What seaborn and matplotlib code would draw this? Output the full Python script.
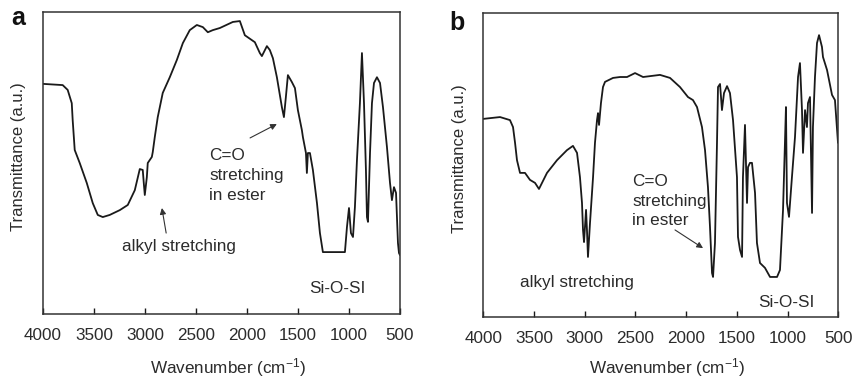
import matplotlib
matplotlib.use("Agg")
import matplotlib.pyplot as plt
import seaborn as sns
import pandas as pd

# ---------------- data ----------------
wn_a = [4000, 3807, 3758, 3718, 3709, 3689, 3640, 3571, 3512, 3463, 3414, 3346,
        3247, 3169, 3100, 3051, 3022, 3012, 3002, 2982, 2973, 2933, 2924, 2904,
        2875, 2826, 2757, 2688, 2629, 2561, 2492, 2433, 2384, 2335, 2266, 2139,
        2070, 2021, 1923, 1874, 1854, 1805, 1776, 1746, 1707, 1658, 1638, 1619,
        1599, 1560, 1530, 1501, 1462, 1452, 1422, 1413, 1403, 1383, 1354, 1314,
        1285, 1256, 1040, 1020, 1000, 981, 961, 942, 922, 893, 873, 853, 834,
        824, 814, 794, 775, 755, 726, 696, 667, 628, 598, 579, 559, 539, 520,
        510, 500]
tr_a = [76.2, 75.8, 74.2, 69.8, 64.2, 54.3, 50.0, 43.4, 36.7, 32.8, 32.1, 32.8,
        34.4, 36.1, 41.0, 48.0, 47.7, 43.4, 39.4, 45.3, 50.0, 52.0, 53.6, 58.6,
        65.2, 73.2, 78.4, 84.1, 89.7, 94.0, 95.7, 95.0, 93.3, 94.0, 94.7, 96.7,
        97.0, 92.3, 90.0, 86.4, 85.4, 88.7, 87.4, 84.7, 78.4, 68.5, 65.2, 71.8,
        79.1, 76.8, 74.8, 67.5, 60.9, 58.6, 53.3, 46.7, 53.3, 53.3, 47.7, 36.7,
        26.8, 20.5, 20.5, 28.8, 35.1, 26.8, 25.5, 35.4, 51.0, 69.8, 86.4, 69.8,
        47.7, 32.1, 30.5, 53.3, 69.8, 76.5, 78.4, 76.5, 68.5, 55.3, 43.4, 37.7,
        42.0, 40.1, 23.5, 20.2, 19.5]

wn_b = [4000, 3835, 3737, 3707, 3687, 3668, 3638, 3589, 3540, 3490, 3451, 3372,
        3273, 3175, 3116, 3076, 3047, 3027, 3017, 3007, 2987, 2978, 2968, 2948,
        2918, 2899, 2879, 2869, 2859, 2840, 2820, 2800, 2721, 2652, 2583, 2504,
        2425, 2258, 2159, 2061, 1982, 1933, 1893, 1844, 1814, 1785, 1765, 1745,
        1735, 1716, 1696, 1686, 1666, 1647, 1627, 1597, 1568, 1538, 1499, 1489,
        1469, 1449, 1440, 1420, 1400, 1390, 1371, 1351, 1321, 1302, 1272, 1223,
        1173, 1104, 1075, 1045, 1026, 1016, 1006, 986, 957, 927, 897, 878, 858,
        848, 828, 809, 799, 779, 759, 750, 730, 710, 690, 661, 651, 611, 562,
        533, 503]
tr_b = [65.2, 65.8, 64.8, 62.5, 57.3, 51.6, 47.4, 47.4, 45.1, 44.1, 42.1, 47.4,
        51.6, 54.9, 56.3, 54.0, 46.0, 37.5, 28.6, 24.6, 35.2, 28.6, 19.7, 30.9,
        46.0, 57.3, 64.8, 67.1, 63.2, 70.4, 75.7, 77.4, 78.7, 79.0, 79.0, 80.3,
        79.0, 79.7, 78.7, 75.7, 72.4, 71.4, 69.1, 62.5, 54.9, 42.7, 29.6, 14.4,
        13.1, 24.3, 57.3, 75.7, 76.7, 68.1, 73.7, 76.0, 73.7, 64.8, 46.0, 26.3,
        22.0, 19.7, 46.0, 63.2, 37.5, 49.3, 50.7, 50.7, 40.8, 24.3, 17.7, 16.1,
        13.1, 13.1, 15.4, 35.2, 57.3, 69.1, 37.5, 32.9, 46.0, 59.2, 79.0, 83.6,
        68.1, 54.0, 68.1, 62.5, 70.4, 72.4, 34.2, 62.5, 79.0, 90.2, 92.8, 88.9,
        85.6, 81.3, 73.1, 71.4, 57.3]

tick_values = [4000, 3500, 3000, 2500, 2000, 1500, 1000, 500]
tick_labels = ["4000", "3500", "3000", "2500", "2000", "1500", "1000", "500"]
panel_letters = ["a", "b"]
xlabel_text = "Wavenumber (cm$^{\\mathregular{-1}}$)"
ylabel_text = "Transmittance (a.u.)"
carbonyl_text = "C=O\nstretching\nin ester"
alkyl_text = "alkyl stretching"
siloxane_text = "Si-O-SI"

# ---------------- style ----------------
sns.set_style("white")
plt.rcParams["font.family"] = ["Liberation Sans", "DejaVu Sans"]
plt.rcParams["mathtext.fontset"] = "custom"
plt.rcParams["mathtext.rm"] = "Liberation Sans"
plt.rcParams["mathtext.it"] = "Liberation Sans:italic"
plt.rcParams["mathtext.bf"] = "Liberation Sans:bold"

TXT = "#2b2b2b"
LINE = "#1a1a1a"
FS = 12.3

fig = plt.figure(figsize=(8.56, 3.79), dpi=100)
W, H = 856, 379

def px_axes(l, r, t, b):
    return fig.add_axes([l / W, 1 - b / H, (r - l) / W, (b - t) / H])

ax_a = px_axes(43, 400, 12, 314)
ax_b = px_axes(483.3, 838.3, 13.3, 316.7)

df_a = pd.DataFrame({"wn": wn_a, "T": tr_a})
df_b = pd.DataFrame({"wn": wn_b, "T": tr_b})

for ax, df in ((ax_a, df_a), (ax_b, df_b)):
    sns.lineplot(data=df, x="wn", y="T", ax=ax, sort=False, estimator=None,
                 color=LINE, lw=1.3)
    ax.set_xlim(4000, 500)
    ax.set_ylim(0, 100)
    ax.set_xticks(tick_values)
    ax.set_xticklabels(tick_labels)
    ax.set_yticks([])
    ax.tick_params(axis="x", direction="in", length=4, width=1.0, colors=LINE,
                   labelcolor=TXT, labelsize=FS, pad=10, bottom=True, top=False)
    for s in ax.spines.values():
        s.set_visible(True)
        s.set_color("#333333")
        s.set_linewidth(1.1)
    ax.set_xlabel(xlabel_text, fontsize=FS, color=TXT, va="center")
    ax.set_ylabel(ylabel_text, fontsize=FS - 0.3, color=TXT, va="center")

ax_a.xaxis.set_label_coords(0.518, -0.176)
ax_b.xaxis.set_label_coords(0.517, -0.166)
ax_a.yaxis.set_label_coords(-0.07, 0.52)
ax_b.yaxis.set_label_coords(-0.068, 0.52)

arrow_kw = dict(arrowstyle="-|>", lw=0.8, color="#333333", mutation_scale=9,
                shrinkA=0, shrinkB=0)

# panel a annotations
ax_a.text(0.465, 0.459, carbonyl_text, transform=ax_a.transAxes, ha="left",
          va="center", fontsize=FS, color=TXT, linespacing=1.4)
ax_a.annotate("", xy=(0.655, 0.629), xytext=(0.580, 0.583),
              xycoords="axes fraction", textcoords="axes fraction",
              arrowprops=arrow_kw)
ax_a.text(0.380, 0.222, alkyl_text, transform=ax_a.transAxes, ha="center",
          va="center", fontsize=FS, color=TXT)
ax_a.annotate("", xy=(0.333, 0.351), xytext=(0.345, 0.268),
              xycoords="axes fraction", textcoords="axes fraction",
              arrowprops=arrow_kw)
ax_a.text(0.824, 0.086, siloxane_text, transform=ax_a.transAxes, ha="center",
          va="center", fontsize=FS, color=TXT)

# panel b annotations
ax_b.text(0.419, 0.381, carbonyl_text, transform=ax_b.transAxes, ha="left",
          va="center", fontsize=FS, color=TXT, linespacing=1.4)
ax_b.annotate("", xy=(0.619, 0.226), xytext=(0.540, 0.286),
              xycoords="axes fraction", textcoords="axes fraction",
              arrowprops=arrow_kw)
ax_b.text(0.265, 0.114, alkyl_text, transform=ax_b.transAxes, ha="center",
          va="center", fontsize=FS, color=TXT)
ax_b.text(0.853, 0.048, siloxane_text, transform=ax_b.transAxes, ha="center",
          va="center", fontsize=FS, color=TXT)

# panel letters
fig.text(11 / W, 1 - 25 / H, panel_letters[0], fontsize=18, fontweight="bold",
         color="#111111", ha="left", va="baseline")
fig.text(449 / W, 1 - 30 / H, panel_letters[1], fontsize=18, fontweight="bold",
         color="#111111", ha="left", va="baseline")

fig.savefig("out.png", dpi=100)
